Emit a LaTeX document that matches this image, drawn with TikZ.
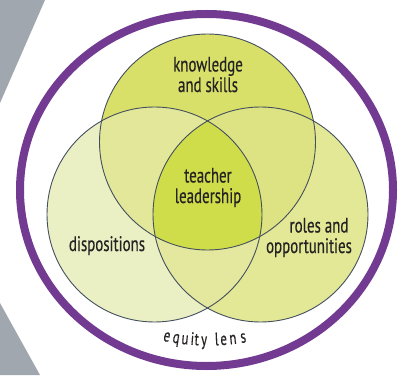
\documentclass[tikz,border=0pt]{standalone}
\usepackage{fontspec}
\setmainfont{PT Sans}[FakeStretch=0.71,FakeBold=0.35]
\definecolor{grayb}{HTML}{A0A7AF}
\definecolor{purp}{HTML}{733A92}
\definecolor{outl}{HTML}{45505E}
\definecolor{txt}{HTML}{252322}
\definecolor{fT}{HTML}{D8E06A}
\definecolor{fL}{HTML}{EAF0C4}
\definecolor{fR}{HTML}{E2E896}
\definecolor{fTL}{HTML}{E2E79A}
\definecolor{fTR}{HTML}{DDE382}
\definecolor{fLR}{HTML}{E3E89E}
\definecolor{fC}{HTML}{CFDD4B}
\begin{document}
\begin{tikzpicture}[x=1pt,y=1pt,
  lbl/.style={font=\fontsize{21}{20.5}\selectfont, text=txt, align=center, inner sep=0pt, anchor=base},
  eqchar/.style={font=\fontsize{18}{18}\selectfont, text=txt, inner sep=0pt, anchor=base},
  ring/.style={draw=outl, line width=0.9pt}]
\useasboundingbox (0,0) rectangle (406,375);
\fill[white] (0,0) rectangle (406,375);
% grey background shapes
\fill[grayb] (0,375) -- (45,375) -- (0,272) -- cycle;
\fill[grayb] (0,72) -- (40,0) -- (0,0) -- cycle;
% circle centres
\coordinate (cT) at (207.5,233);
\coordinate (cL) at (154.5,160.5);
\coordinate (cR) at (260.5,160.5);
% base fills
\fill[fL] (cL) circle (107.5);
\fill[fR] (cR) circle (107.5);
\fill[fT] (cT) circle (108);
% overlaps
\begin{scope}
  \clip (cL) circle (107.5);
  \fill[fTL] (cT) circle (108);
\end{scope}
\begin{scope}
  \clip (cR) circle (107.5);
  \fill[fTR] (cT) circle (108);
\end{scope}
\begin{scope}
  \clip (cL) circle (107.5);
  \fill[fLR] (cR) circle (107.5);
\end{scope}
\begin{scope}
  \clip (cL) circle (107.5);
  \clip (cR) circle (107.5);
  \fill[fC] (cT) circle (108);
\end{scope}
% outlines
\draw[ring] (cL) circle (107.5);
\draw[ring] (cR) circle (107.5);
\draw[ring] (cT) circle (108);
% purple lens
\draw[purp, line width=8pt] (206.5,185) ellipse [x radius=186.5, y radius=176];
% labels (base anchor = baseline of last line)
\node[lbl] (know) at (208,283) {knowledge\\and skills};
\node[lbl] (teach) at (208,172) {teacher\\leadership};
\node[lbl] (disp) at (107,124) {dispositions};
\node[lbl] (roles) at (309,122) {\hspace*{20pt}roles and\\opportunities};
% equity lens along an arc
\foreach \c/\x [count=\i] in {e/166,q/175.5,u/184.5,i/192,t/196.5,y/204,l/217,e/224,n/233.5,s/244}{
  \pgfmathsetmacro\ang{270+asin((\x-208)/220)}
  \node[eqchar, rotate=\ang+90] (eq\i) at ([shift={(\ang:220)}]208,249.5) {\c};
}
\end{tikzpicture}
\end{document}
